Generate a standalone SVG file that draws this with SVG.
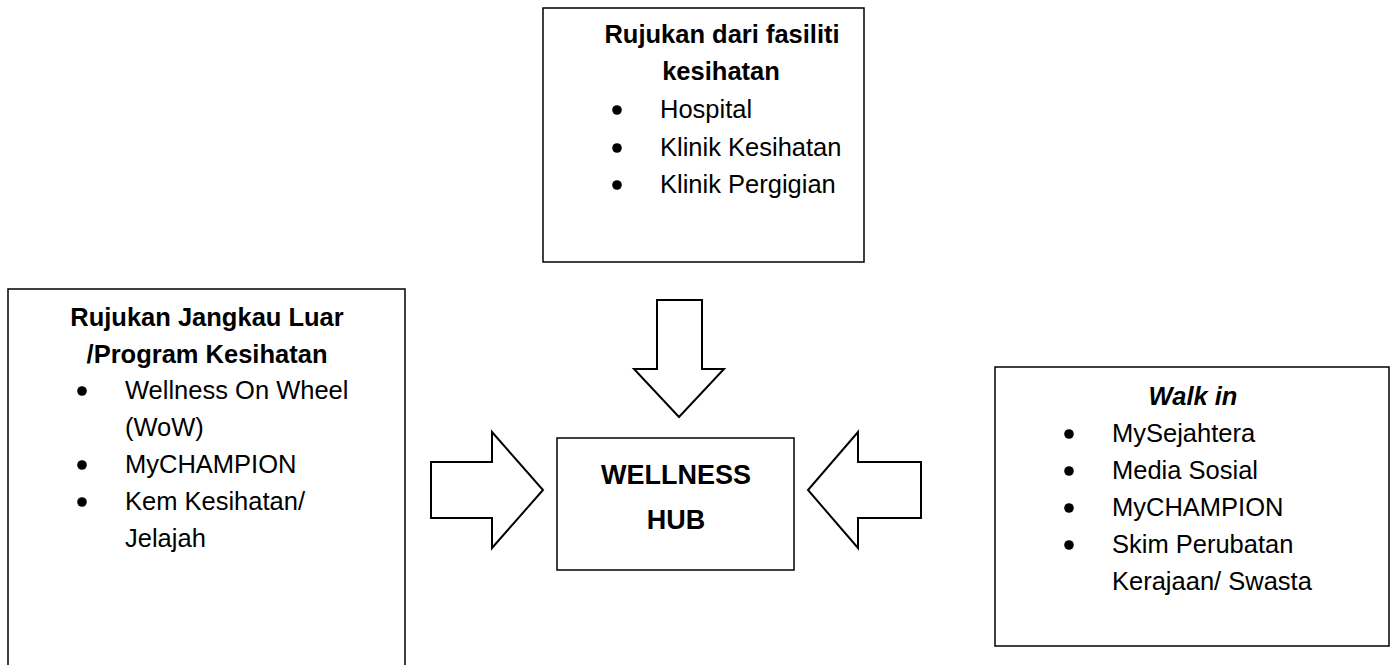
<svg xmlns="http://www.w3.org/2000/svg" width="1397" height="665" viewBox="0 0 1397 665">
<style>
.box{fill:#fff;stroke:#000;stroke-width:1.5}
.arr{fill:#fff;stroke:#000;stroke-width:2;stroke-linejoin:miter}
text{font-family:"Liberation Sans",Arial,sans-serif;fill:#000}
.t{font-size:25.5px;font-weight:bold;text-anchor:middle}
.b{font-size:25.5px}
.h{font-size:27px;font-weight:bold;text-anchor:middle}
.dot{fill:#000}
</style>
<rect width="1397" height="665" fill="#fff"/>
<g id="connectors">
<polygon class="arr" points="657,300 702,300 702,369 724,369 679,417 634,369 657,369"/>
<polygon class="arr" points="431,462 492,462 492,432 543,490 492,548 492,518 431,518"/>
<polygon class="arr" points="921,462 858,462 858,432 808,490 858,548 858,518 921,518"/>
</g>
<g id="node-top">
<rect class="box" x="543" y="8" width="321" height="254"/>
<text class="t" x="722" y="43">Rujukan dari fasiliti</text>
<text class="t" x="721" y="80">kesihatan</text>
<circle class="dot" cx="617" cy="110" r="4.8"/>
<circle class="dot" cx="617" cy="148" r="4.8"/>
<circle class="dot" cx="617" cy="185" r="4.8"/>
<text class="b" x="660" y="118">Hospital</text>
<text class="b" x="660" y="156">Klinik Kesihatan</text>
<text class="b" x="660" y="193">Klinik Pergigian</text>
</g>
<g id="node-left">
<rect class="box" x="8" y="289" width="397" height="420"/>
<text class="t" x="207" y="326">Rujukan Jangkau Luar</text>
<text class="t" x="207" y="363">/Program Kesihatan</text>
<circle class="dot" cx="82" cy="391" r="4.8"/>
<circle class="dot" cx="82" cy="465" r="4.8"/>
<circle class="dot" cx="82" cy="502" r="4.8"/>
<text class="b" x="125" y="399">Wellness On Wheel</text>
<text class="b" x="125" y="436">(WoW)</text>
<text class="b" x="125" y="473">MyCHAMPION</text>
<text class="b" x="125" y="510">Kem Kesihatan/</text>
<text class="b" x="125" y="547">Jelajah</text>
</g>
<g id="node-center">
<rect class="box" x="557" y="438" width="237" height="132"/>
<text class="h" x="676" y="484">WELLNESS</text>
<text class="h" x="676" y="529">HUB</text>
</g>
<g id="node-right">
<rect class="box" x="995" y="367" width="394" height="279"/>
<text class="t" x="1193" y="405" font-style="italic">Walk in</text>
<circle class="dot" cx="1069" cy="434" r="4.8"/>
<circle class="dot" cx="1069" cy="471" r="4.8"/>
<circle class="dot" cx="1069" cy="508" r="4.8"/>
<circle class="dot" cx="1069" cy="545" r="4.8"/>
<text class="b" x="1112" y="442">MySejahtera</text>
<text class="b" x="1112" y="479">Media Sosial</text>
<text class="b" x="1112" y="516">MyCHAMPION</text>
<text class="b" x="1112" y="553">Skim Perubatan</text>
<text class="b" x="1112" y="590">Kerajaan/ Swasta</text>
</g>
</svg>
